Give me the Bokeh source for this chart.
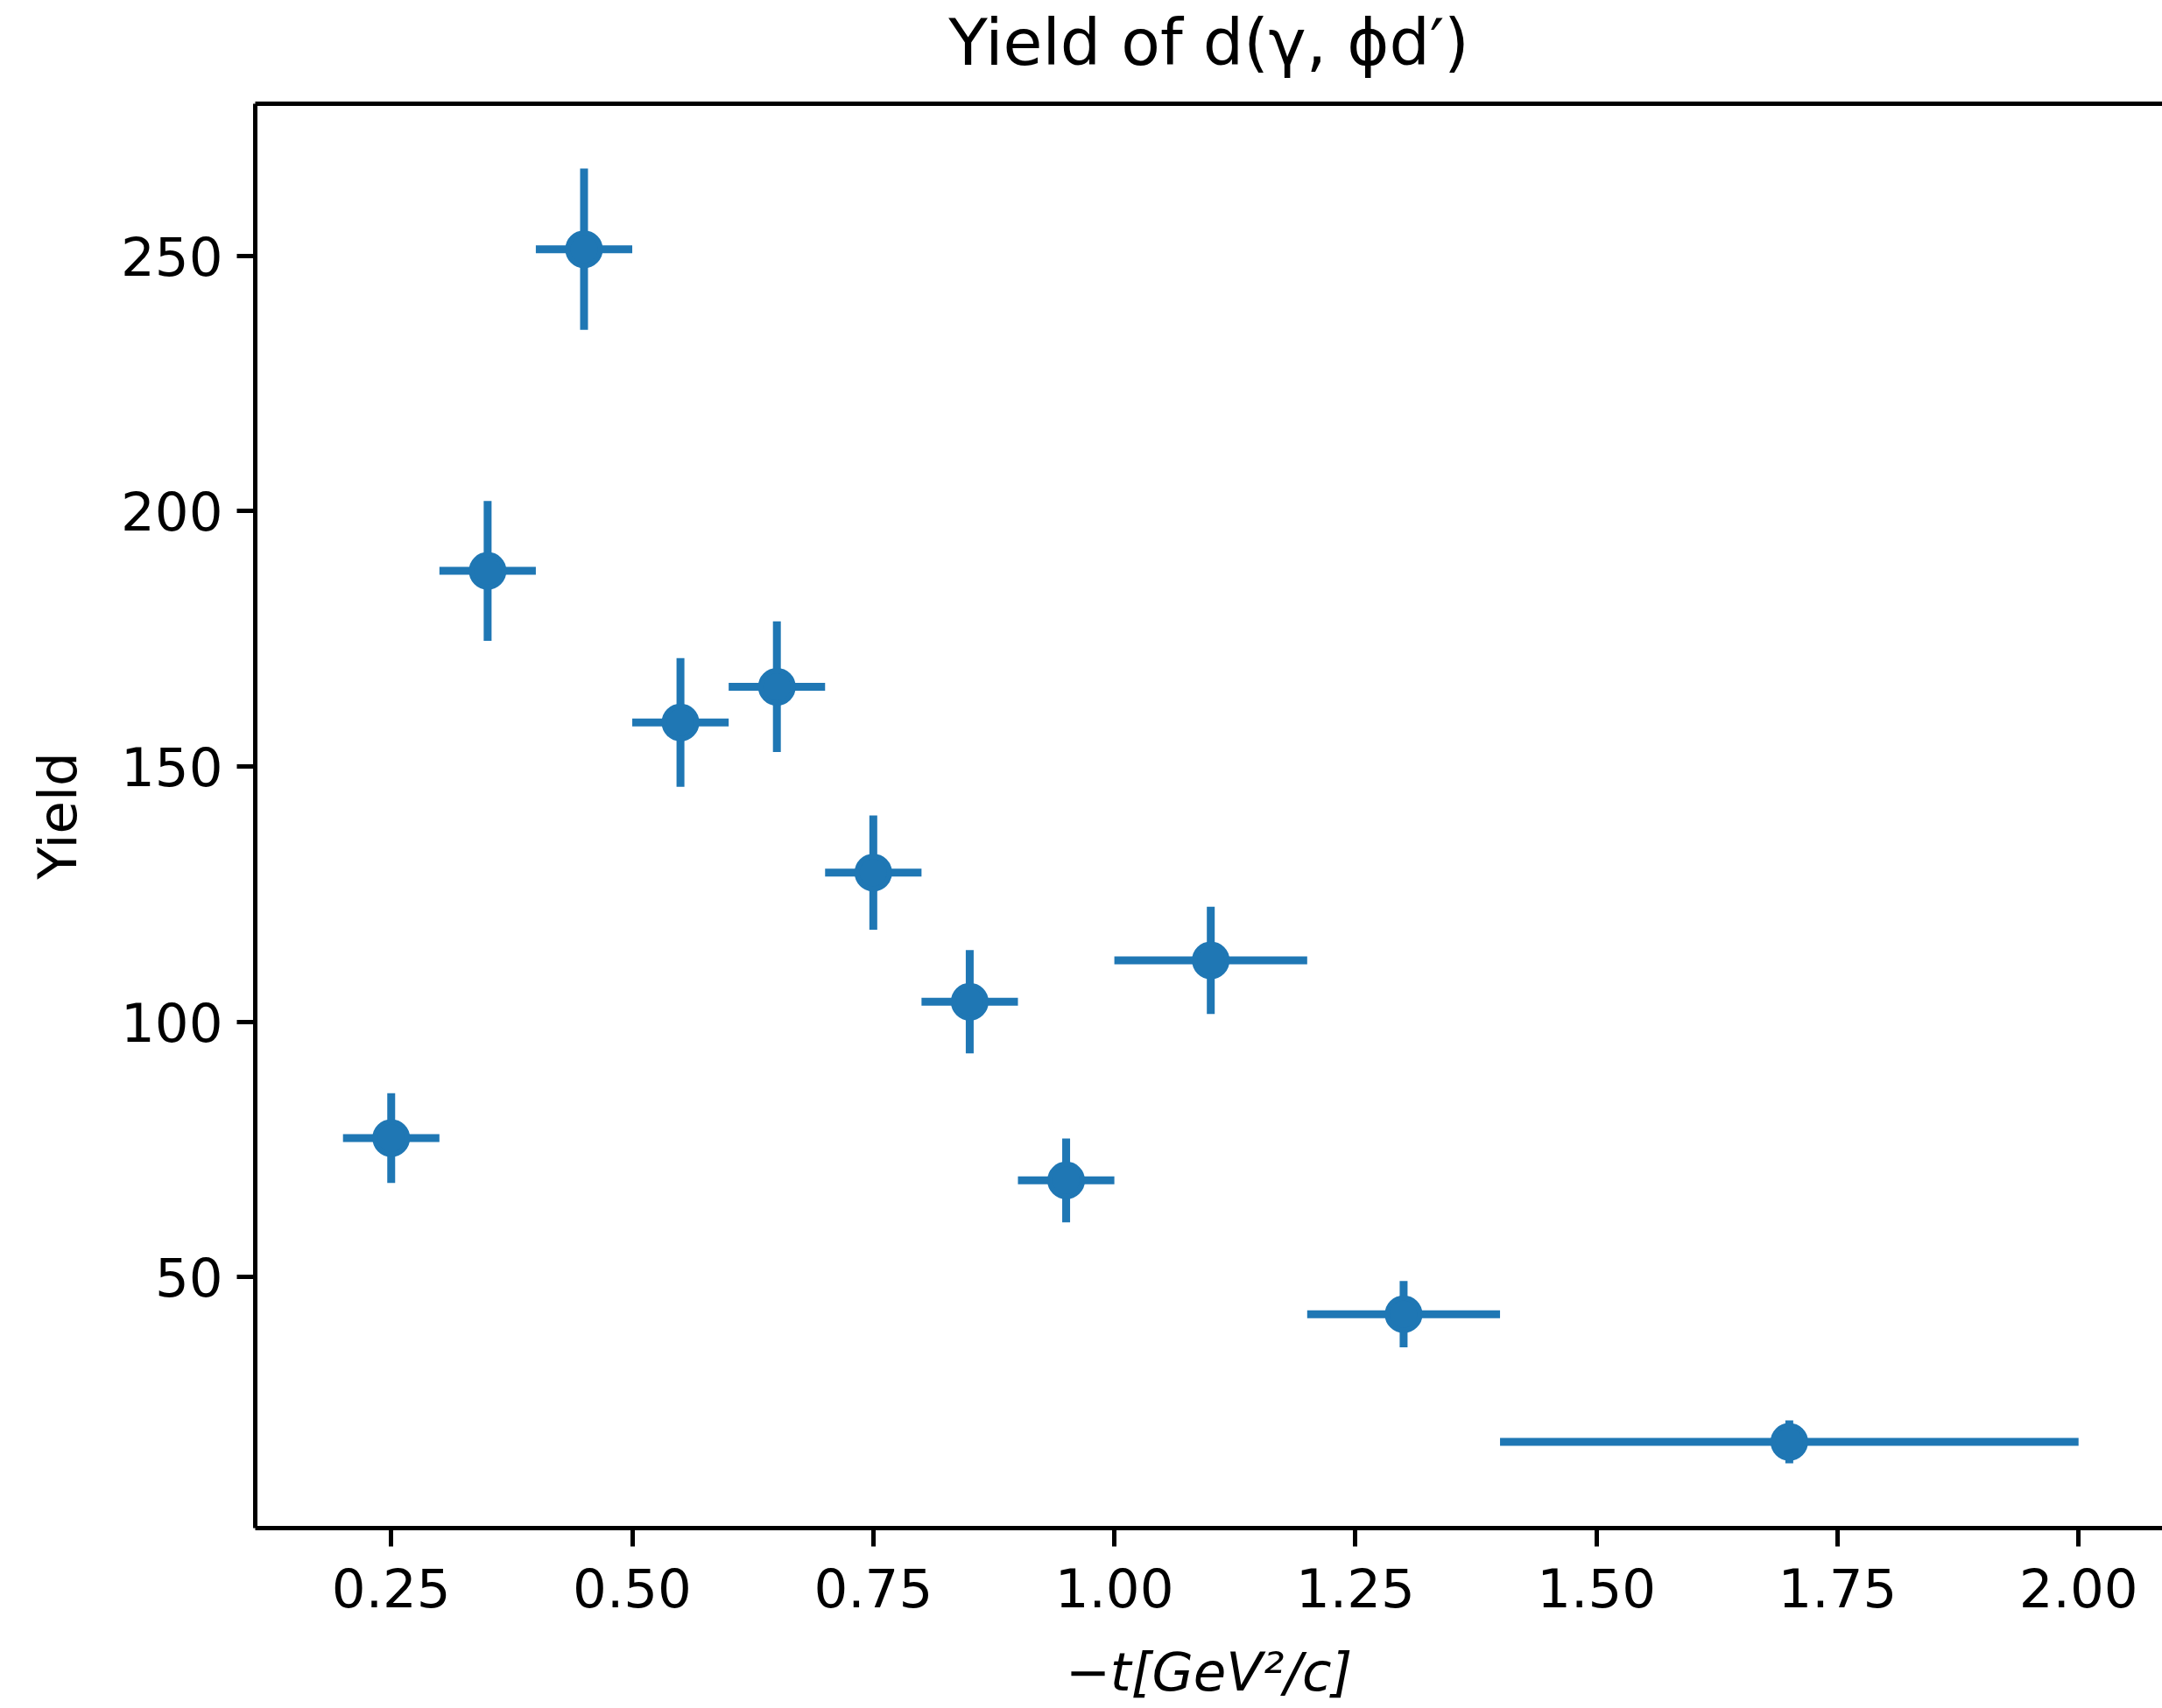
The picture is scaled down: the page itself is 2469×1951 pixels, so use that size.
from bokeh.plotting import figure
from bokeh.models import Range1d, FixedTicker, LinearAxis, NumeralTickFormatter, ColumnDataSource
from bokeh.embed import file_html
from bokeh.resources import INLINE

# Data
t_center = [0.25, 0.35, 0.45, 0.55, 0.65, 0.75, 0.85, 0.95, 1.10, 1.30, 1.70]
t_halfwidth = [0.05, 0.05, 0.05, 0.05, 0.05, 0.05, 0.05, 0.05, 0.10, 0.10, 0.30]
yield_values = [77.2, 188.3, 251.3, 158.6, 165.6, 129.2, 103.9, 68.9, 112.0, 42.7, 17.7]
yield_errors = [8.8, 13.7, 15.8, 12.6, 12.8, 11.2, 10.1, 8.2, 10.5, 6.5, 4.2]
x_ticks = [0.25, 0.50, 0.75, 1.00, 1.25, 1.50, 1.75, 2.00]
y_ticks = [50, 100, 150, 200, 250]
title_text = "Yield of d(γ, ϕd′)"

COLOR = "#1f77b4"
FONT = "DejaVu Sans"

src = ColumnDataSource(dict(
    x=t_center,
    y=yield_values,
    xl=[c - h for c, h in zip(t_center, t_halfwidth)],
    xr=[c + h for c, h in zip(t_center, t_halfwidth)],
    yl=[v - e for v, e in zip(yield_values, yield_errors)],
    yh=[v + e for v, e in zip(yield_values, yield_errors)],
))

p = figure(
    width=2469, height=1951,
    output_backend="svg", toolbar_location=None,
    x_range=Range1d(0.109, 2.087), y_range=Range1d(0.8, 279.8),
    min_border_left=291, min_border_right=0, min_border_top=118, min_border_bottom=206,
)
p.background_fill_color = "white"
p.border_fill_color = "white"
p.outline_line_color = None
p.grid.visible = False

for ax in (p.xaxis[0], p.yaxis[0]):
    ax.axis_line_color = "black"
    ax.axis_line_width = 5
    ax.major_tick_line_color = "black"
    ax.major_tick_line_width = 5
    ax.major_tick_out = 21
    ax.major_tick_in = 0
    ax.minor_tick_line_color = None
    ax.major_label_text_font = FONT
    ax.major_label_text_font_size = "61px"
    ax.major_label_text_color = "black"
    ax.axis_label_text_font = FONT
    ax.axis_label_text_font_size = "61px"
    ax.axis_label_text_color = "black"

p.xaxis[0].ticker = FixedTicker(ticks=x_ticks)
p.xaxis[0].formatter = NumeralTickFormatter(format="0.00")
p.xaxis[0].axis_label = "−t[GeV²/c]"
p.xaxis[0].axis_label_text_font_style = "italic"
p.xaxis[0].major_label_standoff = 24
p.xaxis[0].axis_label_standoff = 35

p.yaxis[0].ticker = FixedTicker(ticks=y_ticks)
p.yaxis[0].formatter = NumeralTickFormatter(format="0")
p.yaxis[0].axis_label = "Yield"
p.yaxis[0].axis_label_text_font_style = "normal"
p.yaxis[0].major_label_orientation = "horizontal"
p.yaxis[0].major_label_standoff = 16
p.yaxis[0].axis_label_standoff = 34

# top spine, carrying the chart title centred over the axes
top = LinearAxis(ticker=FixedTicker(ticks=[]))
top.axis_line_color = "black"
top.axis_line_width = 5
top.major_tick_out = 0
top.major_tick_in = 0
top.minor_tick_out = 0
top.minor_tick_in = 0
top.major_label_text_font_size = "0px"
top.major_label_standoff = 0
top.axis_label = title_text
top.axis_label_text_font = FONT
top.axis_label_text_font_size = "73px"
top.axis_label_text_font_style = "normal"
top.axis_label_text_color = "black"
top.axis_label_standoff = 28
p.add_layout(top, "above")

# error bars
p.segment(x0="xl", x1="xr", y0="y", y1="y", source=src, line_color=COLOR, line_width=9, line_cap="butt")
p.segment(x0="x", x1="x", y0="yl", y1="yh", source=src, line_color=COLOR, line_width=9, line_cap="butt")
p.scatter(x="x", y="y", source=src, size=37, fill_color=COLOR, line_color=COLOR, line_width=6)

open("out.html", "w").write(file_html(p, INLINE))
